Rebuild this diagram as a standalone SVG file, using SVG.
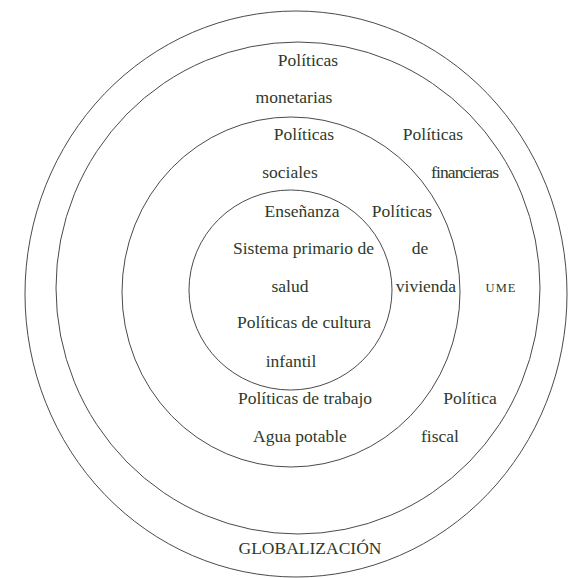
<svg xmlns="http://www.w3.org/2000/svg" width="568" height="578" viewBox="0 0 568 578">
<style>
.ring{fill:none;stroke:#4a4a4a;stroke-width:1}
.t{font-family:"Liberation Serif","DejaVu Serif",serif;font-size:17.5px;fill:#2e3a2b;text-anchor:middle}
.sc{font-family:"Liberation Serif","DejaVu Serif",serif;font-size:12.5px;fill:#2e3a2b;text-anchor:middle;letter-spacing:1px}
</style>
<rect width="568" height="578" fill="#ffffff"/>
<g id="globalizacion">
<ellipse class="ring" cx="296" cy="294" rx="271" ry="283"/>
<text class="t" x="310" y="554">GLOBALIZACIÓN</text>
</g>
<g id="ume">
<ellipse class="ring" cx="298" cy="288" rx="242" ry="246"/>
<text class="t" x="308" y="66">Políticas</text>
<text class="t" x="294" y="103">monetarias</text>
<text class="t" x="433" y="140">Políticas</text>
<text class="t" x="465" y="178" textLength="68">financieras</text>
<text class="sc" x="501" y="292">UME</text>
<text class="t" x="470" y="404">Política</text>
<text class="t" x="440" y="442">fiscal</text>
</g>
<g id="politicas-sociales">
<ellipse class="ring" cx="291" cy="292" rx="169" ry="175"/>
<text class="t" x="304" y="140">Políticas</text>
<text class="t" x="290" y="178">sociales</text>
<text class="t" x="402" y="217">Políticas</text>
<text class="t" x="420" y="254">de</text>
<text class="t" x="426" y="292">vivienda</text>
<text class="t" x="305" y="404">Políticas de trabajo</text>
<text class="t" x="300" y="442">Agua potable</text>
</g>
<g id="nucleo">
<ellipse class="ring" cx="290.5" cy="290" rx="101.5" ry="100"/>
<text class="t" x="302" y="217">Enseñanza</text>
<text class="t" x="303.5" y="254">Sistema primario de</text>
<text class="t" x="290" y="292">salud</text>
<text class="t" x="304" y="328">Políticas de cultura</text>
<text class="t" x="291" y="367">infantil</text>
</g>
</svg>
